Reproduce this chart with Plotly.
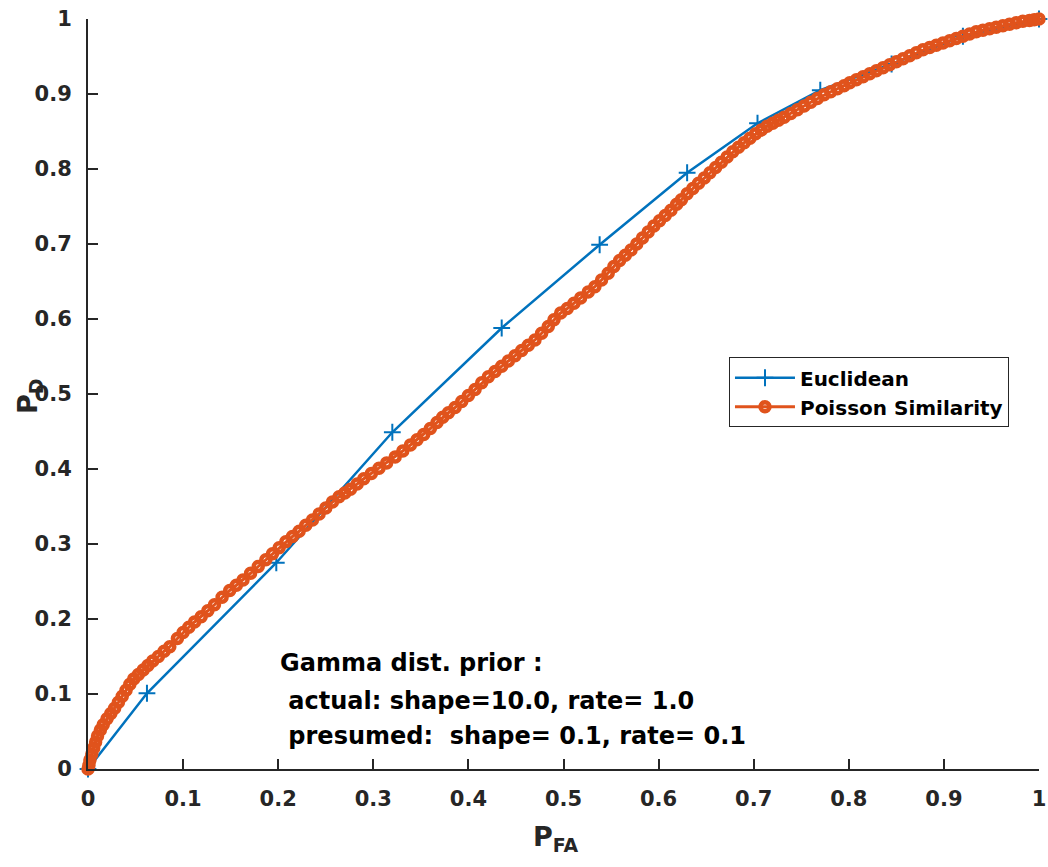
import plotly.graph_objects as go

# ---------------- data ----------------
euc_pfa = [0.0, 0.062, 0.198, 0.320, 0.435, 0.538, 0.630, 0.704, 0.770, 0.845, 0.920, 1.0]
euc_pd = [0.0, 0.101, 0.275, 0.449, 0.588, 0.699, 0.795, 0.861, 0.905, 0.940, 0.977, 1.0]

poi_pfa = [
    0.0, 0.001, 0.002, 0.004, 0.006, 0.008, 0.010, 0.013, 0.016, 0.020, 0.024, 0.028,
    0.032, 0.036, 0.040, 0.044, 0.048, 0.053, 0.058, 0.063, 0.068, 0.074, 0.080, 0.086,
    0.094, 0.100, 0.106, 0.112, 0.119, 0.126, 0.133, 0.141, 0.149, 0.156, 0.163, 0.171,
    0.179, 0.187, 0.194, 0.201, 0.208, 0.215, 0.222, 0.229, 0.236,
    0.243, 0.250, 0.257, 0.264, 0.270, 0.276, 0.283, 0.290, 0.298, 0.306, 0.314, 0.323,
    0.331, 0.339, 0.346, 0.353, 0.360, 0.367, 0.373, 0.379, 0.386, 0.393, 0.400, 0.407,
    0.414, 0.421, 0.428, 0.435, 0.442, 0.449, 0.456, 0.463, 0.470, 0.477, 0.484, 0.490,
    0.497, 0.504, 0.511, 0.518, 0.526, 0.533,
    0.540, 0.547, 0.553, 0.559, 0.565, 0.571, 0.577, 0.583, 0.589, 0.595, 0.601, 0.607,
    0.613, 0.619, 0.624, 0.630, 0.636, 0.642, 0.648, 0.654, 0.660, 0.666, 0.672, 0.678,
    0.684, 0.690, 0.696, 0.702, 0.708, 0.714, 0.720, 0.726, 0.732,
    0.739, 0.746, 0.753, 0.760, 0.767, 0.774, 0.781, 0.788, 0.795, 0.801, 0.808, 0.815,
    0.822, 0.829, 0.836, 0.843, 0.850, 0.857, 0.864, 0.871, 0.878, 0.885, 0.892, 0.899,
    0.906, 0.913, 0.920, 0.927, 0.934, 0.941, 0.948, 0.955, 0.962, 0.969, 0.976, 0.983,
    0.990, 0.995, 1.0,
]
poi_pd = [
    0.0, 0.005, 0.012, 0.020, 0.028, 0.036, 0.044, 0.052, 0.059, 0.067, 0.074, 0.081,
    0.089, 0.097, 0.105, 0.113, 0.120, 0.126, 0.132, 0.138, 0.144, 0.150, 0.157, 0.163,
    0.174, 0.182, 0.189, 0.196, 0.203, 0.211, 0.219, 0.229, 0.238, 0.245, 0.252, 0.261,
    0.270, 0.279, 0.287, 0.295, 0.303, 0.310, 0.317, 0.325, 0.332,
    0.340, 0.348, 0.356, 0.363, 0.368, 0.373, 0.380, 0.387, 0.394, 0.401, 0.408, 0.416,
    0.424, 0.432, 0.439, 0.446, 0.454, 0.462, 0.469, 0.475, 0.482, 0.490, 0.498, 0.506,
    0.515, 0.523, 0.530, 0.537, 0.544, 0.551, 0.558, 0.565, 0.572, 0.581, 0.590, 0.599,
    0.608, 0.614, 0.621, 0.628, 0.636, 0.643,
    0.652, 0.661, 0.670, 0.678, 0.685, 0.692, 0.700, 0.708, 0.716, 0.724, 0.731, 0.738,
    0.745, 0.753, 0.759, 0.767, 0.774, 0.781, 0.788, 0.795, 0.802, 0.809, 0.816, 0.823,
    0.829, 0.835, 0.841, 0.847, 0.852, 0.857, 0.861, 0.865, 0.869,
    0.874, 0.879, 0.884, 0.889, 0.894, 0.899, 0.903, 0.907, 0.911, 0.915, 0.919, 0.923,
    0.927, 0.931, 0.935, 0.939, 0.943, 0.947, 0.951, 0.955, 0.959, 0.962, 0.965, 0.968,
    0.971, 0.974, 0.977, 0.980, 0.983, 0.985, 0.987, 0.989, 0.991, 0.993, 0.995, 0.997,
    0.998, 0.999, 1.0,
]

tick_vals = [0, 0.1, 0.2, 0.3, 0.4, 0.5, 0.6, 0.7, 0.8, 0.9, 1]
tick_text = ["0", "0.1", "0.2", "0.3", "0.4", "0.5", "0.6", "0.7", "0.8", "0.9", "1"]

note_lines = [
    "Gamma dist. prior :",
    "\u00a0actual: shape=10.0, rate= 1.0",
    "\u00a0presumed:\u00a0\u00a0shape= 0.1, rate= 0.1",
]

# ---------------- figure ----------------
BLUE = "#0072BD"
ORANGE = "#E0531C"
AXC = "#262626"
FONT = "DejaVu Sans"

fig = go.Figure()
fig.add_trace(go.Scatter(
    x=euc_pfa, y=euc_pd, name="Euclidean", mode="lines+markers",
    line=dict(color=BLUE, width=2.5),
    marker=dict(symbol="cross-thin-open", size=12, color=BLUE, line=dict(color=BLUE, width=2)),
    cliponaxis=False,
))
fig.add_trace(go.Scatter(
    x=poi_pfa, y=poi_pd, name="Poisson Similarity", mode="lines+markers",
    line=dict(color=ORANGE, width=3),
    marker=dict(symbol="circle-open", size=9, color=ORANGE, line=dict(color=ORANGE, width=4.5)),
    cliponaxis=False,
))

axis_common = dict(
    range=[0, 1], tickmode="array", tickvals=tick_vals, ticktext=tick_text,
    ticks="inside", ticklen=10, tickwidth=1.5, tickcolor=AXC,
    showline=True, linecolor=AXC, linewidth=2, mirror=False,
    showgrid=False, zeroline=False, ticklabeloverflow="allow",
    tickfont=dict(family=FONT, size=21, color=AXC, weight="bold"),
)
fig.update_xaxes(**axis_common, ticklabelstandoff=10)
fig.update_yaxes(**axis_common, ticklabelstandoff=10)

fig.update_layout(
    width=1048, height=867,
    margin=dict(l=88, r=9, t=19, b=98, autoexpand=False),
    paper_bgcolor="white", plot_bgcolor="white",
    showlegend=True,
    legend=dict(
        x=0.674, y=0.549, xanchor="left", yanchor="top",
        bgcolor="white", bordercolor=AXC, borderwidth=1,
        font=dict(family=FONT, size=20, color="black", weight="bold"),
        tracegroupgap=0, itemwidth=60,
    ),
)

# axis titles as annotations for precise placement
fig.add_annotation(
    text="P<sub>FA</sub>", xref="paper", yref="paper", x=0.492, y=-0.093,
    xanchor="center", yanchor="middle", showarrow=False,
    font=dict(family=FONT, size=27, color=AXC, weight="bold"),
)
fig.add_annotation(
    text="P<sub>D</sub>", xref="paper", yref="paper", x=-0.062, y=0.496,
    xanchor="center", yanchor="middle", showarrow=False, textangle=-90,
    font=dict(family=FONT, size=27, color=AXC, weight="bold"),
)

note_y = [0.141, 0.091, 0.044]
for txt, yy in zip(note_lines, note_y):
    fig.add_annotation(
        text=txt, xref="paper", yref="paper", x=0.2, y=yy,
        xanchor="left", yanchor="middle", showarrow=False, align="left",
        font=dict(family=FONT, size=24, color="black", weight="bold"),
    )

fig.write_html("out.html")
